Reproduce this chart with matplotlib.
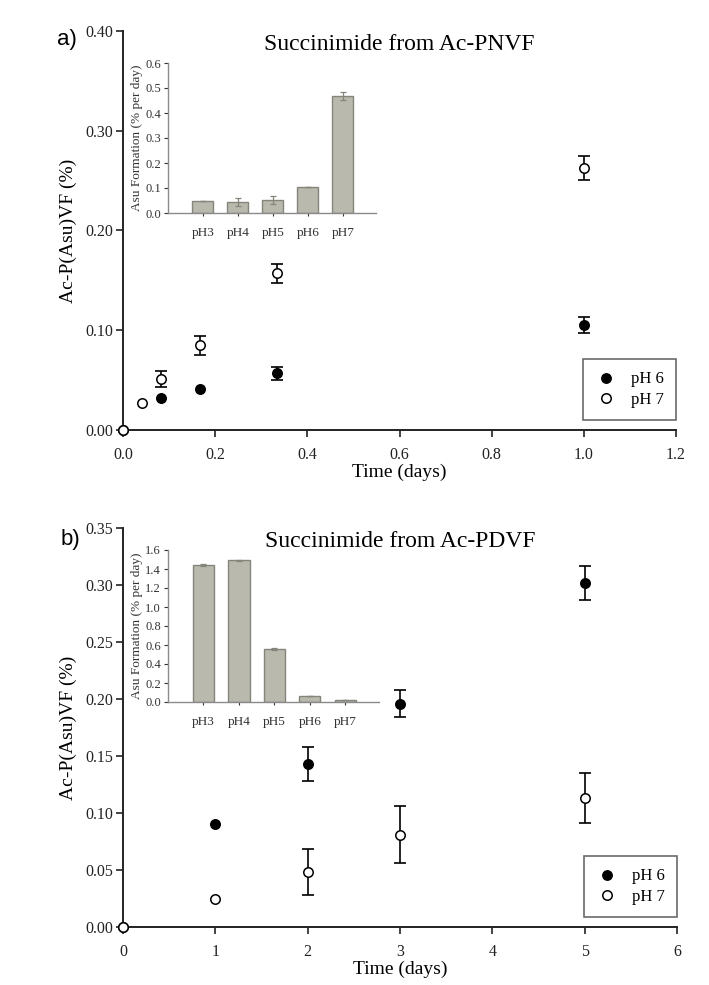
import numpy as np
import matplotlib
matplotlib.use("Agg")
import matplotlib.pyplot as plt
from matplotlib.lines import Line2D

plt.rcParams["font.family"] = ["Liberation Serif", "DejaVu Serif"]

# panel a: Ac-PNVF
a_t6 = [0.0, 0.0833, 0.1667, 0.3333, 1.0]
a_y6 = [0.0, 0.032, 0.041, 0.057, 0.105]
a_e6 = [0.0, 0.002, 0.003, 0.0066, 0.008]
a_t7 = [0.0, 0.0417, 0.0833, 0.1667, 0.3333, 1.0]
a_y7 = [0.0, 0.027, 0.051, 0.085, 0.157, 0.263]
a_e7 = [0.0, 0.0, 0.008, 0.0094, 0.0095, 0.012]

# panel b: Ac-PDVF
b_t6 = [0, 1, 2, 3, 5]
b_y6 = [0.0, 0.090, 0.143, 0.196, 0.302]
b_e6 = [0.0, 0.0, 0.015, 0.012, 0.015]
b_t7 = [0, 1, 2, 3, 5]
b_y7 = [0.0, 0.025, 0.048, 0.081, 0.113]
b_e7 = [0.0, 0.0, 0.020, 0.025, 0.022]

# insets
ph_labels = ["pH3", "pH4", "pH5", "pH6", "pH7"]
a_rate = [0.049, 0.045, 0.052, 0.104, 0.468]
a_rate_err = [0.001, 0.015, 0.017, 0.001, 0.015]
b_rate = [1.445, 1.49, 0.56, 0.068, 0.025]
b_rate_err = [0.01, 0.01, 0.008, 0.0, 0.0]

W, H = 709, 985
fig = plt.figure(figsize=(W / 100, H / 100), dpi=100)


def fax(x0, y0, x1, y1):
    # pixel box -> figure axes
    return fig.add_axes([x0 / W, 1 - y1 / H, (x1 - x0) / W, (y1 - y0) / H])


def series(ax, t, y, e, face, z):
    t, y, e = np.array(t), np.array(y), np.array(e)
    m = e > 0.004
    ax.errorbar(t[m], y[m], yerr=e[m], fmt="none", ecolor="black", elinewidth=1.2,
                capsize=4.5, capthick=1.2, zorder=z)
    ax.plot(t, y, "o", ms=6.8, mfc=face, mec="black", mew=1.1, clip_on=False,
            zorder=z + 0.5)


def main_panel(ax, t6, y6, e6, t7, y7, e7, xlim, xticks, xfmt, ylim, yticks, title):
    series(ax, t6, y6, e6, "black", 3)
    series(ax, t7, y7, e7, "white", 4)
    ax.set_xlim(xlim)
    ax.set_ylim(ylim)
    ax.set_xticks(xticks)
    ax.set_xticklabels([xfmt % v for v in xticks])
    ax.set_yticks(yticks)
    ax.set_yticklabels(["%.2f" % v for v in yticks])
    for s in ["top", "right"]:
        ax.spines[s].set_visible(False)
    for s in ["left", "bottom"]:
        ax.spines[s].set_linewidth(1.4)
        ax.spines[s].set_color("#222222")
    ax.tick_params(direction="out", length=5, width=1.2, labelsize=11.5,
                   colors="#222222")
    ax.tick_params(axis="x", pad=7)
    ax.tick_params(axis="y", pad=2)
    ax.set_xlabel("Time (days)", fontsize=14, labelpad=1)
    ax.set_ylabel("Ac-P(Asu)VF (%)", fontsize=14, labelpad=6)
    ax.text(0.5, 0.965, title, transform=ax.transAxes, ha="center", va="center",
            fontsize=17)
    handles = [Line2D([], [], ls="none", marker="o", ms=6.8, mfc="black", mec="black"),
               Line2D([], [], ls="none", marker="o", ms=6.8, mfc="white", mec="black",
                      mew=1.1)]
    leg = ax.legend(handles, ["pH 6", "pH 7"], loc="lower right",
                    bbox_to_anchor=(1.0, 0.025), frameon=True, fancybox=False,
                    edgecolor="#444444", fontsize=12, handletextpad=0.8, borderpad=0.75,
                    labelspacing=0.25, handlelength=1.3, borderaxespad=0)
    leg.get_frame().set_linewidth(1.2)


def inset(ax, vals, errs, ylim, yticks):
    x = np.arange(len(vals))
    ax.bar(x, vals, width=0.6, color="#b9b9ad", edgecolor="#85857b", linewidth=1.0,
           yerr=errs, error_kw=dict(ecolor="#85857b", elinewidth=0.9, capsize=2.5,
                                    capthick=0.9))
    ax.set_xlim(-1.0, 4.95)
    ax.set_ylim(ylim)
    ax.set_yticks(yticks)
    ax.set_yticklabels(["%.1f" % v for v in yticks])
    ax.set_xticks(x)
    ax.set_xticklabels(ph_labels)
    for s in ["top", "right"]:
        ax.spines[s].set_visible(False)
    for s in ["left", "bottom"]:
        ax.spines[s].set_color("#8a8a8a")
        ax.spines[s].set_linewidth(1.0)
    ax.tick_params(axis="y", direction="out", length=3, width=0.8, labelsize=9,
                   pad=2, colors="#333333")
    ax.tick_params(axis="x", direction="out", length=2, width=0.8, labelsize=9.5,
                   pad=8, colors="#333333")
    ax.set_ylabel("Asu Formation (% per day)", fontsize=9.5, labelpad=2, color="#333333")
    ax.patch.set_alpha(0)


ax_a = fax(123, 31, 676, 430)
main_panel(ax_a, a_t6, a_y6, a_e6, a_t7, a_y7, a_e7, (0, 1.2),
           [0.0, 0.2, 0.4, 0.6, 0.8, 1.0, 1.2], "%.1f", (0, 0.40),
           [0.0, 0.1, 0.2, 0.3, 0.4], "Succinimide from Ac-PNVF")
ax_b = fax(123, 528, 677, 927)
main_panel(ax_b, b_t6, b_y6, b_e6, b_t7, b_y7, b_e7, (0, 6),
           [0, 1, 2, 3, 4, 5, 6], "%d", (0, 0.35),
           [0.0, 0.05, 0.10, 0.15, 0.20, 0.25, 0.30, 0.35], "Succinimide from Ac-PDVF")

in_a = fax(168, 63, 376, 213)
inset(in_a, a_rate, a_rate_err, (0, 0.6), [0.0, 0.1, 0.2, 0.3, 0.4, 0.5, 0.6])
in_b = fax(168, 550, 379, 702)
inset(in_b, b_rate, b_rate_err, (0, 1.6), [0.0, 0.2, 0.4, 0.6, 0.8, 1.0, 1.2, 1.4, 1.6])

fig.text(67 / W, 1 - 40 / H, "a)", fontsize=16, family=["Liberation Sans", "DejaVu Sans"],
         ha="center", va="center")
fig.text(70 / W, 1 - 540 / H, "b)", fontsize=16, family=["Liberation Sans", "DejaVu Sans"],
         ha="center", va="center")

fig.savefig("out.png", dpi=100)
